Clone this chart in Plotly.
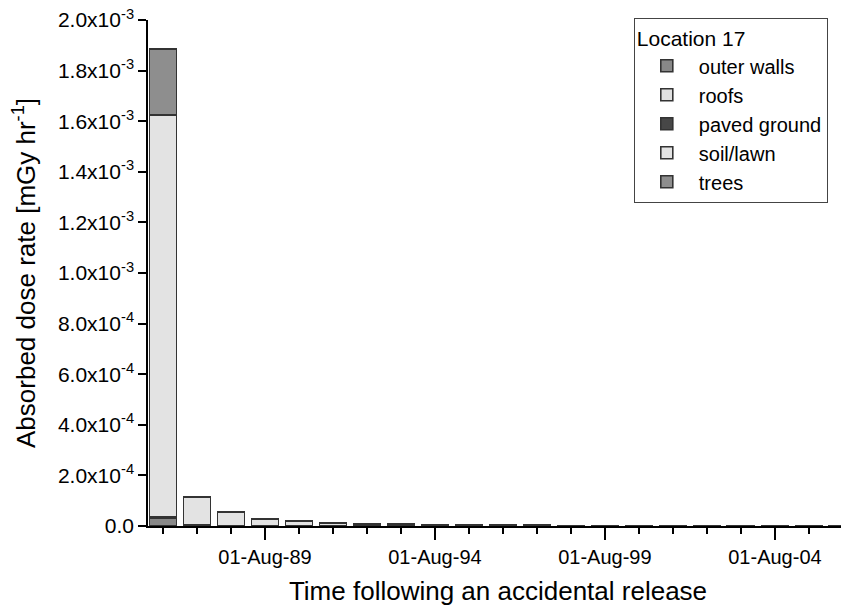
import plotly.graph_objects as go

dates = ["%d-08-01" % y for y in range(1986, 2007)]

outer_walls = [3.2e-5, 1.5e-6, 1.0e-6, 0.8e-6, 0.6e-6, 0.5e-6, 0.4e-6, 0.4e-6, 0.3e-6, 0.3e-6, 0.3e-6,
               0.2e-6, 0.2e-6, 0.2e-6, 0.2e-6, 0.2e-6, 0.2e-6, 0.1e-6, 0.1e-6, 0.1e-6, 0.1e-6]
roofs = [4.0e-6, 2.0e-6, 1.0e-6, 0.6e-6, 0.4e-6, 0.3e-6, 0.2e-6, 0.2e-6, 0.2e-6, 0.1e-6, 0.1e-6,
         0.1e-6, 0.1e-6, 0.1e-6, 0.1e-6, 0.1e-6, 0.1e-6, 0.1e-6, 0.1e-6, 0.1e-6, 0.1e-6]
paved_ground = [2.0e-6, 1.0e-6, 0.5e-6, 0.3e-6, 0.2e-6, 0.2e-6, 0.2e-6, 0.2e-6, 0.2e-6, 0.2e-6, 0.2e-6,
                0.2e-6, 0.2e-6, 0.2e-6, 0.2e-6, 0.2e-6, 0.2e-6, 0.2e-6, 0.2e-6, 0.2e-6, 0.2e-6]
soil_lawn = [1.587e-3, 1.10e-4, 5.2e-5, 2.7e-5, 1.85e-5, 1.18e-5, 8.0e-6, 6.0e-6, 4.2e-6, 3.3e-6, 2.8e-6,
             2.4e-6, 2.0e-6, 1.7e-6, 1.4e-6, 1.2e-6, 1.0e-6, 1.0e-6, 0.9e-6, 0.8e-6, 0.7e-6]
trees = [2.6e-4, 0.5e-6, 0.5e-6, 0.3e-6, 0.3e-6, 0.2e-6, 0.2e-6, 0.2e-6, 0.1e-6, 0.1e-6, 0.1e-6,
         0.1e-6, 0.1e-6, 0.1e-6, 0.1e-6, 0.1e-6, 0.1e-6, 0.1e-6, 0.1e-6, 0.1e-6, 0.1e-6]

series = [
    ("outer walls", outer_walls, "#888888"),
    ("roofs", roofs, "#e0e0e0"),
    ("paved ground", paved_ground, "#474747"),
    ("soil/lawn", soil_lawn, "#e3e3e3"),
    ("trees", trees, "#8e8e8e"),
]

y_tickvals = [i * 2e-4 for i in range(11)]
y_ticktext = ["0.0", "2.0x10<sup>-4</sup>", "4.0x10<sup>-4</sup>", "6.0x10<sup>-4</sup>",
              "8.0x10<sup>-4</sup>", "1.0x10<sup>-3</sup>", "1.2x10<sup>-3</sup>",
              "1.4x10<sup>-3</sup>", "1.6x10<sup>-3</sup>", "1.8x10<sup>-3</sup>",
              "2.0x10<sup>-3</sup>"]
x_tickvals = ["1989-08-01", "1994-08-01", "1999-08-01", "2004-08-01"]
x_ticktext = ["01-Aug-89", "01-Aug-94", "01-Aug-99", "01-Aug-04"]

bar_width_ms = 0.8 * 365.25 * 86400000

fig = go.Figure()
for name, vals, col in series:
    fig.add_trace(go.Bar(
        x=dates, y=vals, name=name, width=bar_width_ms,
        marker=dict(color=col, line=dict(color="#333333", width=1.6)),
    ))

font_family = "Liberation Sans, Arial, sans-serif"
# the page body adds an 8px offset, so the figure is 8px smaller than the window
fig.update_layout(
    barmode="stack",
    width=841, height=604,
    margin=dict(l=140, r=1, t=12, b=86),
    plot_bgcolor="white", paper_bgcolor="white",
    font=dict(family=font_family, color="black", size=20),
    showlegend=True,
    legend=dict(
        x=0.694, y=1.004, xanchor="left", yanchor="top",
        traceorder="normal",
        title=dict(text="Location 17", font=dict(size=21)),
        font=dict(size=20),
        bordercolor="#444444", borderwidth=1, bgcolor="white",
        itemwidth=54, tracegroupgap=0,
    ),
    xaxis=dict(
        type="date", automargin=False,
        range=["1986-02-21", "2006-09-25"],
        tickmode="array", tickvals=x_tickvals, ticktext=x_ticktext,
        ticks="outside", ticklen=12, tickwidth=1.5, tickcolor="black",
        showline=True, linecolor="black", linewidth=1.5,
        showgrid=False, zeroline=False,
        tickfont=dict(size=20), ticklabeloverflow="allow",
        minor=dict(dtick="M12", tick0="1986-08-01", ticks="outside", ticklen=6,
                   tickwidth=1.5, tickcolor="black", showgrid=False),
        title=dict(text="Time following an accidental release", font=dict(size=26)),
    ),
    yaxis=dict(
        automargin=False,
        range=[0, 2.0e-3],
        tickmode="array", tickvals=y_tickvals, ticktext=y_ticktext,
        ticks="outside", ticklen=8, tickwidth=1.5, tickcolor="black",
        showline=True, linecolor="black", linewidth=1.5,
        showgrid=False, zeroline=False,
        tickfont=dict(size=21), ticklabeloverflow="allow",
        title=dict(text="Absorbed dose rate [mGy hr<sup>-1</sup>]", font=dict(size=26)),
    ),
)

fig.write_html("out.html")
